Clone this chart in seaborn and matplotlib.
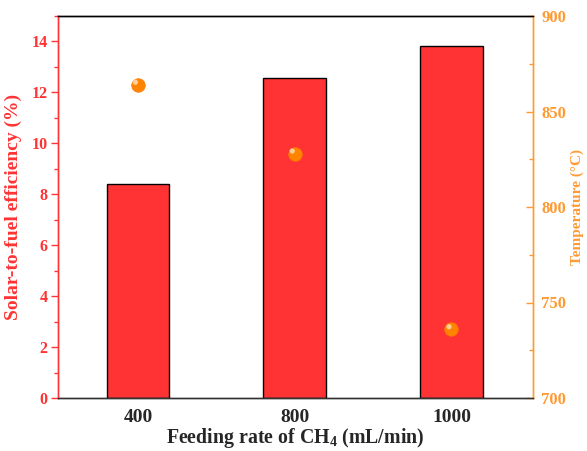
import matplotlib
matplotlib.use("Agg")
import matplotlib.pyplot as plt
import matplotlib.transforms as mtransforms
from matplotlib.ticker import MultipleLocator
import seaborn as sns
import pandas as pd

categories = ["400", "800", "1000"]
efficiency = [8.40, 12.57, 13.83]
temperature = [864, 828, 736]

sns.set_style("ticks")
plt.rcParams['font.family'] = ['Liberation Serif', 'DejaVu Serif']
plt.rcParams['font.weight'] = 'bold'
plt.rcParams['mathtext.fontset'] = 'custom'
plt.rcParams['mathtext.rm'] = 'Liberation Serif:bold'
plt.rcParams['mathtext.bf'] = 'Liberation Serif:bold'

RED = "#FF3333"
ORANGE = "#FF9A33"
PT = "#FF8400"

df = pd.DataFrame({"cat": categories, "eff": efficiency, "temp": temperature})

fig = plt.figure(figsize=(5.87, 4.51), dpi=100)
ax = fig.add_axes([58/587, 1-398/451, (533-58)/587, (398-16)/451])
sns.barplot(data=df, x="cat", y="eff", color=RED, saturation=1, width=0.4,
            edgecolor="black", linewidth=1.0, ax=ax)
ax.set_xlim(-0.51, 2.52)
ax.set_ylim(0, 15)
ax.yaxis.set_major_locator(MultipleLocator(2))
ax.yaxis.set_minor_locator(MultipleLocator(1))
ax.set_xlabel("Feeding rate of CH$_4$ (mL/min)", fontsize=14.3, fontweight='bold', labelpad=0)
ax.set_ylabel("Solar-to-fuel efficiency (%)", fontsize=14, fontweight='bold', color=RED, labelpad=7)
ax.tick_params(axis='x', direction='in', length=5, width=1, labelsize=14, pad=8, color='black')
ax.tick_params(axis='y', which='major', direction='out', length=5, width=1, labelsize=11.5,
               colors=RED, pad=2.5)
ax.tick_params(axis='y', which='minor', direction='out', length=3, width=1, colors=RED)
for lbl in ax.get_xticklabels() + ax.get_yticklabels():
    lbl.set_fontweight('bold')
ax.spines['left'].set_color(RED)
ax.spines['right'].set_color(ORANGE)
ax.spines['top'].set_color('black')
ax.spines['bottom'].set_color('#333333')
for s in ax.spines.values():
    s.set_linewidth(1.0)

ax2 = ax.twinx()
sns.scatterplot(data=df, x="cat", y="temp", color=PT, s=95, edgecolor="#FF7A00",
                linewidth=0.5, ax=ax2, zorder=5, legend=False)
# highlight to mimic sphere shading
off = mtransforms.offset_copy(ax2.transData, fig=fig, x=-1.8, y=1.8, units='points')
ax2.scatter(range(len(categories)), temperature, s=14, color="#FFD9A8", edgecolor='none',
            transform=off, zorder=6, alpha=0.9)
ax2.set_ylim(700, 900)
ax2.set_xlim(-0.51, 2.52)
ax2.yaxis.set_major_locator(MultipleLocator(50))
ax2.yaxis.set_minor_locator(MultipleLocator(25))
ax2.set_ylabel("Temperature (°C)", fontsize=11, fontweight='bold', color=ORANGE, labelpad=3)
ax2.tick_params(axis='y', which='major', direction='in', length=5, width=1, labelsize=12,
                colors=ORANGE, pad=6)
ax2.tick_params(axis='y', which='minor', direction='in', length=3, width=1, colors=ORANGE)
for lbl in ax2.get_yticklabels():
    lbl.set_fontweight('bold')
ax2.spines['right'].set_color(ORANGE)
ax2.spines['left'].set_color(RED)
ax2.spines['top'].set_color('black')
ax2.spines['bottom'].set_color('#333333')
for s in ax2.spines.values():
    s.set_linewidth(1.0)
ax2.set_xlabel("")

fig.savefig("out.png", dpi=100)
